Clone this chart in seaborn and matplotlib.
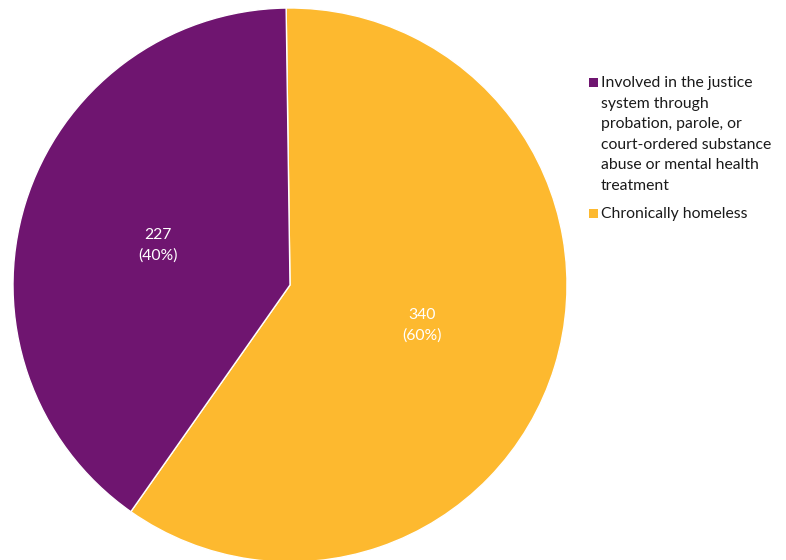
import matplotlib.pyplot as plt
from matplotlib.patches import Rectangle
import seaborn as sns
import numpy as np

sns.set_theme(style="white")
plt.rcParams['font.family'] = ['Lato', 'DejaVu Sans']

# data
categories = ["Chronically homeless",
              "Involved in the justice\nsystem through\nprobation, parole, or\ncourt-ordered substance\nabuse or mental health\ntreatment"]
counts = [340, 227]
colors = ["#FDB92F", "#6F1570"]

W, H = 786, 560
fig = plt.figure(figsize=(W / 100, H / 100), dpi=100)
ax = fig.add_axes([13 / W, -2 / H, 554 / W, 554 / H])

total = sum(counts)
wedges, _ = ax.pie(counts, colors=colors, startangle=90.8, counterclock=False,
                   wedgeprops=dict(edgecolor="white", linewidth=1), radius=1)
for w, n in zip(wedges, counts):
    ang = np.deg2rad((w.theta1 + w.theta2) / 2)
    ax.text(0.5 * np.cos(ang), 0.49 * np.sin(ang), f"{n}\n({n / total * 100:.0f}%)",
            ha="center", va="center", color="white", fontsize=11.3, linespacing=1.58)
ax.set_xlim(-1, 1)
ax.set_ylim(-1, 1)
ax.set_aspect("equal")
ax.axis("off")

# legend, justice entry first, drawn by hand so the square sits on the first line
ytop = 76
for idx in [1, 0]:
    label = categories[idx]
    fig.patches.append(Rectangle((589 / W, 1 - (ytop + 11) / H), 9 / W, 9 / H,
                                 transform=fig.transFigure, facecolor=colors[idx],
                                 edgecolor="none"))
    fig.text(601 / W, 1 - ytop / H, label, ha="left", va="top", fontsize=11.3,
             linespacing=1.6, color="#1a1a1a")
    ytop += 20.8 * (label.count("\n") + 1) + 6

fig.savefig("out.png", dpi=100)
